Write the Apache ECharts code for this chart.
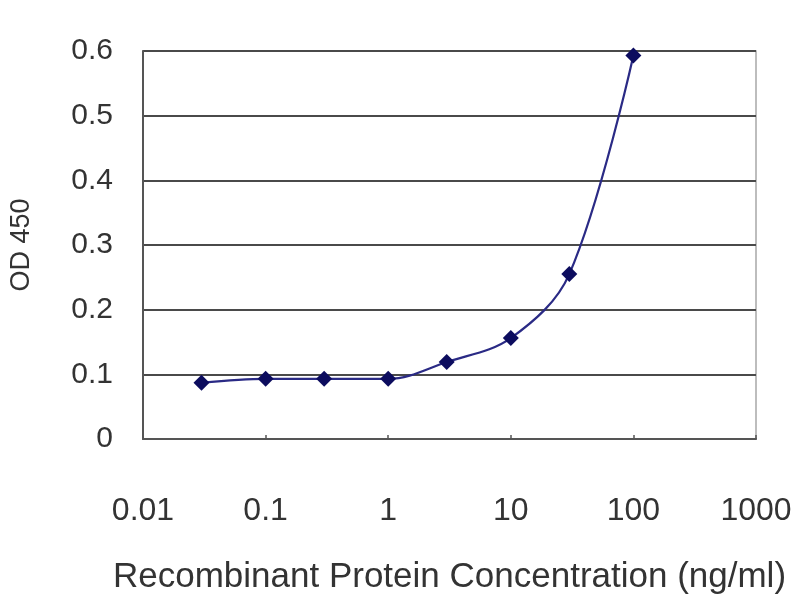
<!DOCTYPE html>
<html>
<head>
<meta charset="utf-8">
<script src="https://cdn.jsdelivr.net/npm/echarts@6/dist/echarts.min.js"></script>
<style>
  html, body { margin: 0; padding: 0; background: #fff; }
  #chart { width: 800px; height: 600px; }
</style>
</head>
<body>
<div id="chart"></div>
<script>
// concentrations (ng/ml) and OD 450 readings
const concentrations = [0.03, 0.1, 0.3, 1, 3, 10, 30, 100];
const odValues = [0.087, 0.093, 0.093, 0.093, 0.119, 0.156, 0.255, 0.593];
const xTickLabels = ['0.01', '0.1', '1', '10', '100', '1000'];
const yTickLabels = ['0', '0.1', '0.2', '0.3', '0.4', '0.5', '0.6'];

const points = concentrations.map((c, i) => [c, odValues[i]]);

let chart = echarts.init(document.getElementById('chart'));
let font = '"Liberation Sans", Arial, sans-serif';

let option = {
    animation: false,
    backgroundColor: '#fff',
    grid: {
        left: 142,
        right: 44,
        top: 51,
        bottom: 161,
        show: true,
        borderColor: '#a8a8a8',
        borderWidth: 1.5
    },
    xAxis: {
        type: 'log',
        logBase: 10,
        min: 0.01,
        max: 1000,
        name: 'Recombinant Protein Concentration (ng/ml)',
        nameLocation: 'middle',
        nameGap: 121,
        nameTextStyle: { fontFamily: font, fontSize: 35, color: '#333' },
        axisLine: { lineStyle: { color: '#555', width: 2 } },
        axisTick: { show: true, inside: true, length: 4, lineStyle: { color: '#555', width: 1.5 } },
        minorTick: { show: false },
        splitLine: { show: false },
        axisLabel: {
            fontFamily: font,
            fontSize: 32,
            color: '#333',
            margin: 56,
            formatter: function (v) {
                let k = Math.round(Math.log10(v)) + 2;
                return xTickLabels[k] !== undefined ? xTickLabels[k] : '';
            }
        }
    },
    yAxis: {
        type: 'value',
        min: 0,
        max: 0.6,
        interval: 0.1,
        name: 'OD 450',
        nameLocation: 'middle',
        nameRotate: 90,
        nameGap: 108,
        nameTextStyle: { fontFamily: font, fontSize: 27, color: '#333' },
        axisLine: { show: true, lineStyle: { color: '#555', width: 2 } },
        axisTick: { show: false },
        splitLine: { show: true, lineStyle: { color: '#4a4a4a', width: 2 } },
        axisLabel: {
            fontFamily: font,
            fontSize: 30,
            color: '#333',
            margin: 30,
            formatter: function (v) {
                return yTickLabels[Math.round(v * 10)];
            }
        }
    },
    series: [
        {
            type: 'line',
            data: points,
            smooth: 0.35,
            symbol: 'diamond',
            symbolSize: 16,
            lineStyle: { color: '#2a2a85', width: 2.2 },
            itemStyle: { color: '#0c0c5e' }
        }
    ]
};
chart.setOption(option);
</script>
</body>
</html>
